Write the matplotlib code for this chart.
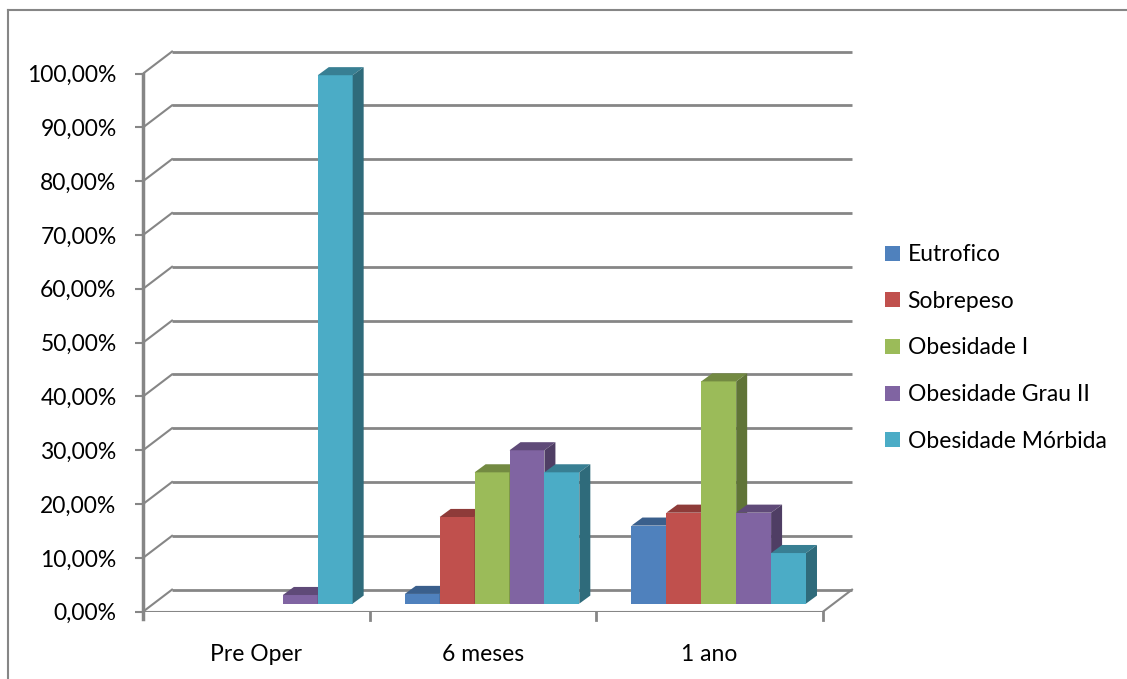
import matplotlib.pyplot as plt
import matplotlib.colors as mcolors
from matplotlib.patches import Polygon, Patch

plt.rcParams['font.family'] = ['Lato', 'DejaVu Sans']

categories = ["Pre Oper", "6 meses", "1 ano"]
series_names = ["Eutrofico", "Sobrepeso", "Obesidade I", "Obesidade Grau II", "Obesidade Mórbida"]
eutrofico = [0.0, 1.8, 14.5]
sobrepeso = [0.0, 16.1, 16.9]
obesidade_i = [0.0, 24.4, 41.3]
obesidade_ii = [1.6, 28.5, 16.9]
morbida = [98.2, 24.4, 9.4]
series_values = [eutrofico, sobrepeso, obesidade_i, obesidade_ii, morbida]
series_colors = ["#4F81BD", "#C0504D", "#9BBB59", "#8064A2", "#4BACC6"]
yticks = list(range(0, 101, 10))

GRID = "#868686"

# pseudo-3D geometry (data units: categories on x, percent on y)
wall_dx, wall_dy = 0.128, 4.1      # back wall offset
front_dx, front_dy = 0.04, 1.5     # bar front plane offset
depth_dx, depth_dy = 0.0485, 1.5   # bar depth
bar_w = 0.154
gap_left = 0.115


def shade(c, f):
    r, g, b = mcolors.to_rgb(c)
    return (r * f, g * f, b * f)


fig = plt.figure(figsize=(11.27, 6.79), dpi=100)
ax = fig.add_axes([143 / 1127, 67.3 / 679, 748 / 1127, 565 / 679])
ax.set_xlim(-0.5, 2.8)
ax.set_ylim(0, 105)
for s in ax.spines.values():
    s.set_visible(False)

# back wall gridlines + side diagonals
for v in yticks:
    ax.plot([-0.5 + wall_dx, 2.5 + wall_dx], [v + wall_dy, v + wall_dy],
            color=GRID, lw=2, zorder=1, solid_capstyle='butt')
    ax.plot([-0.5, -0.5 + wall_dx], [v, v + wall_dy], color=GRID, lw=1.5, zorder=1)

# floor front edge and right diagonal
ax.plot([-0.5, 2.5], [0, 0], color=GRID, lw=1.5, zorder=1)
ax.plot([2.5, 2.5 + wall_dx], [0, wall_dy], color=GRID, lw=1.5, zorder=1)
# value axis line
ax.plot([-0.5, -0.5], [-1.35, 100], color=GRID, lw=2.5, zorder=2, clip_on=False)
# category ticks
for xb in [0.5, 1.5, 2.5]:
    ax.plot([xb, xb], [0, -1.6], color=GRID, lw=2, zorder=2, clip_on=False)

# bars
z = 3
for c in range(len(categories)):
    for s, (vals, col) in enumerate(zip(series_values, series_colors)):
        h = vals[c]
        if h <= 0:
            continue
        x0 = c - 0.5 + gap_left + front_dx + s * bar_w
        y0 = front_dy
        y1 = y0 + h
        ax.bar(x0, h, width=bar_w, bottom=y0, align='edge', color=col,
               linewidth=0, zorder=z)
        top = Polygon([[x0, y1], [x0 + bar_w, y1],
                       [x0 + bar_w + depth_dx, y1 + depth_dy], [x0 + depth_dx, y1 + depth_dy]],
                      closed=True, facecolor=shade(col, 0.74), edgecolor='none', zorder=z)
        side = Polygon([[x0 + bar_w, y0], [x0 + bar_w + depth_dx, y0 + depth_dy],
                        [x0 + bar_w + depth_dx, y1 + depth_dy], [x0 + bar_w, y1]],
                       closed=True, facecolor=shade(col, 0.62), edgecolor='none', zorder=z)
        ax.add_patch(top)
        ax.add_patch(side)
        z += 1

ax.set_yticks(yticks)
ax.set_yticklabels([f"{v},00%" for v in yticks], fontsize=16.5)
ax.tick_params(axis='y', length=6, width=1.5, color=GRID, pad=13)
ax.set_xticks(range(len(categories)))
ax.set_xticklabels(categories, fontsize=16.5)
ax.tick_params(axis='x', length=0, pad=23)

handles = [Patch(facecolor=c, edgecolor='none') for c in series_colors]
fig.legend(handles, series_names, loc='center left',
           bbox_to_anchor=(885 / 1127, 1 - 348 / 679), frameon=False,
           fontsize=16.5, handlelength=0.66, handleheight=0.63, handletextpad=0.33,
           labelspacing=1.12, borderpad=0, borderaxespad=0)

# outer chart border (top and left edges visible)
fig.add_artist(plt.Line2D([8 / 1127, 1], [1 - 10 / 679, 1 - 10 / 679],
                          transform=fig.transFigure, color=GRID, lw=1.5))
fig.add_artist(plt.Line2D([8 / 1127, 8 / 1127], [0, 1 - 10 / 679],
                          transform=fig.transFigure, color=GRID, lw=1.5))

fig.savefig("out.png", dpi=100)
